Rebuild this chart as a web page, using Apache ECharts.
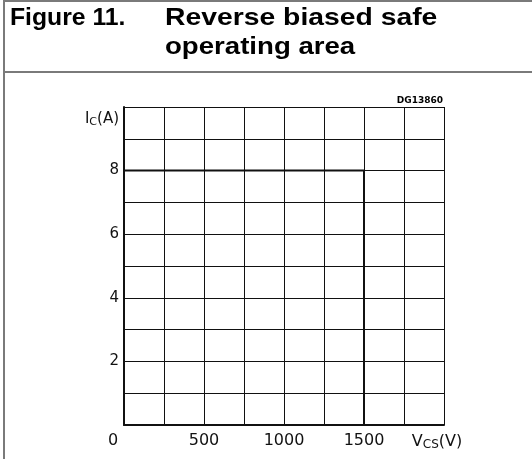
<!DOCTYPE html>
<html>
<head>
<meta charset="utf-8">
<script src="https://cdn.jsdelivr.net/npm/echarts@6/dist/echarts.min.js"></script>
<style>
  html, body { margin: 0; padding: 0; background: #fff; }
  #chart { width: 532px; height: 459px; }
</style>
</head>
<body>
<div id="chart"></div>
<script>
const titleLine1 = "Figure 11.";
const titleLine2a = "Reverse biased safe";
const titleLine2b = "operating area";
const figCode = "DG13860";

// RBSOA boundary: Ic (A) vs Vce (V)
const soaVoltage = [0, 1500, 1500];
const soaCurrent = [8, 8, 0];

const xLabelled = [0, 500, 1000, 1500];
const yLabelled = [2, 4, 6, 8];

const lineColor = "#111";
const frameColor = "#7a7a7a";
const labelFont = "DejaVu Sans";
const titleFont = "bold 24px 'Liberation Sans'";

const chart = echarts.init(document.getElementById("chart"), null, { renderer: "canvas" });

chart.setOption({
  animation: false,
  backgroundColor: "#fff",
  grid: { left: 124, top: 107, width: 320, height: 318, containLabel: false },
  xAxis: {
    type: "value",
    min: 0,
    max: 2000,
    interval: 250,
    axisLine: { lineStyle: { color: lineColor, width: 2 } },
    axisTick: { show: false },
    splitLine: { lineStyle: { color: lineColor, width: 1 } },
    axisLabel: {
      showMinLabel: true,
      showMaxLabel: true,
      margin: 8,
      color: lineColor,
      fontFamily: labelFont,
      fontSize: 16,
      formatter: (v) => {
        if (v === 0) return "{o|0}";
        if (v === 2000) return "{v|V}{s|CS}{e|(V)}";
        return xLabelled.includes(v) ? String(v) : "";
      },
      rich: {
        o: { fontFamily: labelFont, fontSize: 16, color: lineColor, padding: [0, 22, 0, 0] },
        v: { fontFamily: labelFont, fontSize: 16, color: lineColor },
        e: { fontFamily: labelFont, fontSize: 16, color: lineColor, padding: [0, 14, 0, 0] },
        s: { fontFamily: labelFont, fontSize: 12, color: lineColor, padding: [6, 0, 0, 0] },
      },
    },
  },
  yAxis: {
    type: "value",
    min: 0,
    max: 10,
    interval: 1,
    axisLine: { show: true, lineStyle: { color: lineColor, width: 2 } },
    axisTick: { show: false },
    splitLine: { lineStyle: { color: lineColor, width: 1 } },
    axisLabel: {
      showMaxLabel: true,
      margin: 5,
      color: lineColor,
      fontFamily: labelFont,
      fontSize: 15,
      formatter: (v) => {
        if (v === 10) return "{i|I}{s|C}{i|(A)}";
        return yLabelled.includes(v) ? String(v) : "";
      },
      rich: {
        i: { fontFamily: labelFont, fontSize: 15, color: lineColor, padding: [24, 0, 0, 0] },
        s: { fontFamily: labelFont, fontSize: 11, color: lineColor, padding: [30, 0, 0, 0] },
      },
    },
  },
  series: [{
    type: "line",
    data: soaVoltage.map((v, i) => [v, soaCurrent[i]]),
    showSymbol: false,
    lineStyle: { color: lineColor, width: 2 },
    z: 5,
  }],
  graphic: [
    { type: "line", shape: { x1: 4, y1: 0, x2: 4, y2: 459 }, style: { stroke: frameColor, lineWidth: 2 } },
    { type: "line", shape: { x1: 3, y1: 1, x2: 532, y2: 1 }, style: { stroke: frameColor, lineWidth: 2 } },
    { type: "line", shape: { x1: 3, y1: 72, x2: 532, y2: 72 }, style: { stroke: frameColor, lineWidth: 2 } },
    { type: "text", x: 10, y: 6, scaleX: 1.03, style: { text: titleLine1, font: titleFont, fill: "#000" } },
    { type: "text", x: 165, y: 6, scaleX: 1.18, style: { text: titleLine2a, font: titleFont, fill: "#000" } },
    { type: "text", x: 165, y: 35, scaleX: 1.15, style: { text: titleLine2b, font: titleFont, fill: "#000" } },
    { type: "text", right: 89, top: 96, style: { text: figCode, font: "bold 9px 'DejaVu Sans'", fill: "#000" } },
  ],
});
</script>
</body>
</html>
